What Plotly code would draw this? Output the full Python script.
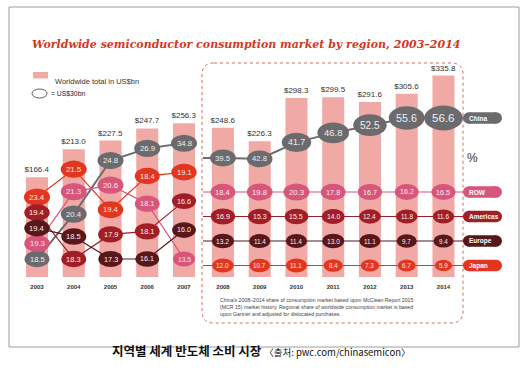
import math
import plotly.graph_objects as go

# ---------------- data ----------------
years = ["2003", "2004", "2005", "2006", "2007", "2008",
         "2009", "2010", "2011", "2012", "2013", "2014"]
total_bn = [166.4, 213.0, 227.5, 247.7, 256.3, 248.6,
            226.3, 298.3, 299.5, 291.6, 305.6, 335.8]
china = [18.5, 20.4, 24.8, 26.9, 34.8, 39.5, 42.8, 41.7, 46.8, 52.5, 55.6, 56.6]
japan = [23.4, 21.5, 19.4, 18.4, 19.1, 12.0, 10.7, 11.1, 8.4, 7.3, 6.7, 5.9]
row = [19.3, 21.3, 20.6, 18.1, 13.5, 18.4, 19.8, 20.3, 17.8, 16.7, 16.2, 16.5]
americas = [19.4, 18.3, 17.9, 18.1, 16.6, 16.9, 15.3, 15.5, 14.0, 12.4, 11.8, 11.6]
europe = [19.4, 18.5, 17.3, 16.1, 16.0, 13.2, 11.4, 11.4, 13.0, 11.1, 9.7, 9.4]

region_names = ["China", "Japan", "ROW", "Americas", "Europe"]
shares = {"China": china, "Japan": japan, "ROW": row,
          "Americas": americas, "Europe": europe}
pill_order = ["China", "ROW", "Americas", "Europe", "Japan"]

title_text = "Worldwide semiconductor consumption market by region, 2003\u20132014"
legend_bar_text = "Worldwide total in US$bn"
legend_ell_text = "= US$30bn"
footnote = ("China's 2008\u20132014 share of consumption market based upon McClean Report 2015<br>"
            "(MCR 15) market history. Regional share of worldwide consumption market is based<br>"
            "upon Gartner and adjusted for dislocated purchases.")
caption_main = "지역별 세계 반도체 소비 시장"
caption_src = "〈출처: pwc.com/chinasemicon〉"

# ---------------- styles / geometry ----------------
colors = {"China": "#6b6b6e", "Japan": "#e2361f", "ROW": "#d8567b",
          "Americas": "#a21e27", "Europe": "#58171a"}
bar_color = "#f1a9a5"
W, H = 531, 386
BASE = 277.0       # pixel row of bar base
PXU = 0.6          # pixels per US$bn
X0, STEP, GAP = 37.0, 36.75, 0.06
FONT = "Liberation Sans"


def vx(px):
    return (px - X0) / STEP


def vy(py):
    return (BASE - py) / PXU


def pxp(px):
    return px / W


def pyp(py):
    return (BASE - py) / BASE


xs = [i + (GAP if i >= 5 else 0.0) for i in range(len(years))]

# ellipse centres derived from ranks within each year
ypos = {r: [0.0] * len(years) for r in region_names}
for i in range(len(years)):
    s = {r: shares[r][i] for r in region_names}
    if i < 5:
        order = sorted(region_names, key=lambda r: -s[r])
        top_v = total_bn[i] - 20 / PXU
        bot_v = vy(259)
        for k, r in enumerate(order):
            ypos[r][i] = top_v - (top_v - bot_v) * k / 4
    else:
        others = sorted([r for r in region_names if r != "China"], key=lambda r: -s[r])
        for k, r in enumerate(others):
            ypos[r][i] = vy(192) - k * 24.5 / PXU
        china_bn = s["China"] * total_bn[i] / 100
        ypos["China"][i] = min(china_bn + 100, vy(118))


def ellipse_size(r, i):
    v = shares[r][i]
    if r == "China" and i >= 5:
        bn = v * total_bn[i] / 100
        return 12 + 0.14 * bn, 8.5 + 0.087 * bn
    w = min(26.0, 7 + 4.2 * math.sqrt(v))
    return w, 0.66 * w


fig = go.Figure()

fig.add_trace(go.Bar(
    x=xs, y=total_bn, width=0.6, marker=dict(color=bar_color, line=dict(width=0)),
    texttemplate="$%{y:.1f}", textposition="outside", constraintext="none",
    textfont=dict(family=FONT, size=8, color="#333333"), cliponaxis=False,
    hoverinfo="skip"))

for r in region_names:
    lw = 2.0 if r == "China" else 1.2
    fig.add_trace(go.Scatter(
        x=xs[:5], y=ypos[r][:5], mode="lines",
        line=dict(color=colors[r], width=lw), hoverinfo="skip", cliponaxis=False))
    fig.add_trace(go.Scatter(
        x=[vx(203)] + xs[5:] + [vx(463)],
        y=[ypos[r][5]] + ypos[r][5:] + [ypos[r][-1]], mode="lines",
        line=dict(color=colors[r], width=lw), hoverinfo="skip", cliponaxis=False))

shapes = []
annotations = []

# outer frame
shapes.append(dict(type="rect", xref="paper", yref="paper",
                   x0=pxp(9), x1=pxp(519), y0=pyp(7), y1=pyp(347),
                   line=dict(color="#9c9c9c", width=1), layer="below"))
# dashed rounded box
bx0, bx1, by0, by1, rr = 202, 463, 63, 323, 12
path = (f"M {pxp(bx0 + rr)},{pyp(by0)} L {pxp(bx1 - rr)},{pyp(by0)} "
        f"Q {pxp(bx1)},{pyp(by0)} {pxp(bx1)},{pyp(by0 + rr)} "
        f"L {pxp(bx1)},{pyp(by1 - rr)} Q {pxp(bx1)},{pyp(by1)} {pxp(bx1 - rr)},{pyp(by1)} "
        f"L {pxp(bx0 + rr)},{pyp(by1)} Q {pxp(bx0)},{pyp(by1)} {pxp(bx0)},{pyp(by1 - rr)} "
        f"L {pxp(bx0)},{pyp(by0 + rr)} Q {pxp(bx0)},{pyp(by0)} {pxp(bx0 + rr)},{pyp(by0)} Z")
shapes.append(dict(type="path", xref="paper", yref="paper", path=path,
                   line=dict(color="#d4685e", width=1, dash="dot"), layer="below"))

# ellipses + labels
for r in region_names:
    for i in range(len(years)):
        v = shares[r][i]
        w, h = ellipse_size(r, i)
        xc, yc = xs[i], ypos[r][i]
        shapes.append(dict(type="circle", xref="x", yref="y",
                           x0=xc - w / 2 / STEP, x1=xc + w / 2 / STEP,
                           y0=yc - h / 2 / PXU, y1=yc + h / 2 / PXU,
                           fillcolor=colors[r], line=dict(width=0), layer="above"))
        annotations.append(dict(x=xc, y=yc, xref="x", yref="y", text=f"{v:.1f}",
                                showarrow=False,
                                font=dict(family=FONT, size=max(6.3, 0.3 * w),
                                          color="#eeeeee" if r == "China" else "#fbecec")))

# region pills at the right
ph, pr = 11.5, 5.75
for r in pill_order:
    yc = ypos[r][-1]
    y0, y1 = yc - ph / 2 / PXU, yc + ph / 2 / PXU
    shapes.append(dict(type="rect", xref="paper", yref="y", x0=pxp(463 + pr), x1=pxp(502 - pr),
                       y0=y0, y1=y1, fillcolor=colors[r], line=dict(width=0), layer="above"))
    shapes.append(dict(type="circle", xref="paper", yref="y", x0=pxp(463), x1=pxp(463 + 2 * pr),
                       y0=y0, y1=y1, fillcolor=colors[r], line=dict(width=0), layer="above"))
    shapes.append(dict(type="circle", xref="paper", yref="y", x0=pxp(502 - 2 * pr), x1=pxp(502),
                       y0=y0, y1=y1, fillcolor=colors[r], line=dict(width=0), layer="above"))
    annotations.append(dict(x=pxp(466.5), y=yc, xref="paper", yref="y", text=f"<b>{r}</b>",
                            showarrow=False, xanchor="left",
                            font=dict(family=FONT, size=6.5, color="#ffffff")))

annotations.append(dict(x=pxp(480), y=pyp(158), xref="paper", yref="paper", text="%",
                        showarrow=False, font=dict(family=FONT, size=12, color="#333333")))

# title
annotations.append(dict(x=pxp(30), y=pyp(36), xref="paper", yref="paper",
                        text=f"<b><i>{title_text}</i></b>", showarrow=False,
                        xanchor="left", font=dict(family="DejaVu Serif", size=11,
                                                  color="#d2381f")))
# legend
shapes.append(dict(type="rect", xref="paper", yref="paper", x0=pxp(33), x1=pxp(48),
                   y0=pyp(72), y1=pyp(78.5), fillcolor=bar_color, line=dict(width=0)))
annotations.append(dict(x=pxp(53), y=pyp(75.3), xref="paper", yref="paper",
                        text=legend_bar_text, showarrow=False, xanchor="left",
                        font=dict(family=FONT, size=7.5, color="#333333")))
shapes.append(dict(type="circle", xref="paper", yref="paper", x0=pxp(32), x1=pxp(47),
                   y0=pyp(89), y1=pyp(98), line=dict(color="#333333", width=0.8)))
annotations.append(dict(x=pxp(48.5), y=pyp(93.5), xref="paper", yref="paper",
                        text=legend_ell_text, showarrow=False, xanchor="left",
                        font=dict(family=FONT, size=6.8, color="#222222")))
# footnote
annotations.append(dict(x=pxp(218), y=pyp(295), xref="paper", yref="paper",
                        text=footnote, showarrow=False, xanchor="left", yanchor="top",
                        align="left", font=dict(family=FONT, size=5.2, color="#444444")))
# caption
annotations.append(dict(x=pxp(261), y=pyp(362), xref="paper", yref="paper",
                        text=f"<b>{caption_main}</b> <span style='font-size:9.5px'>{caption_src}</span>",
                        showarrow=False,
                        font=dict(family="Noto Sans CJK KR", size=12.5, color="#111111")))

fig.update_layout(
    width=W, height=H, margin=dict(l=0, r=0, t=0, b=H - BASE, pad=0),
    paper_bgcolor="white", plot_bgcolor="rgba(0,0,0,0)",
    showlegend=False, hovermode=False,
    shapes=shapes, annotations=annotations,
    xaxis=dict(range=[vx(0), vx(W)], tickvals=xs, ticktext=years,
               showgrid=False, zeroline=False, showline=False,
               ticks="outside", ticklen=4, tickcolor="rgba(0,0,0,0)",
               tickfont=dict(family=FONT, size=6, color="#333333", weight="bold")),
    yaxis=dict(range=[0, vy(0)], visible=False, showgrid=False, zeroline=False),
)

fig.write_html("out.html", config={"displayModeBar": False},
               post_script="document.body.style.margin='0';")
